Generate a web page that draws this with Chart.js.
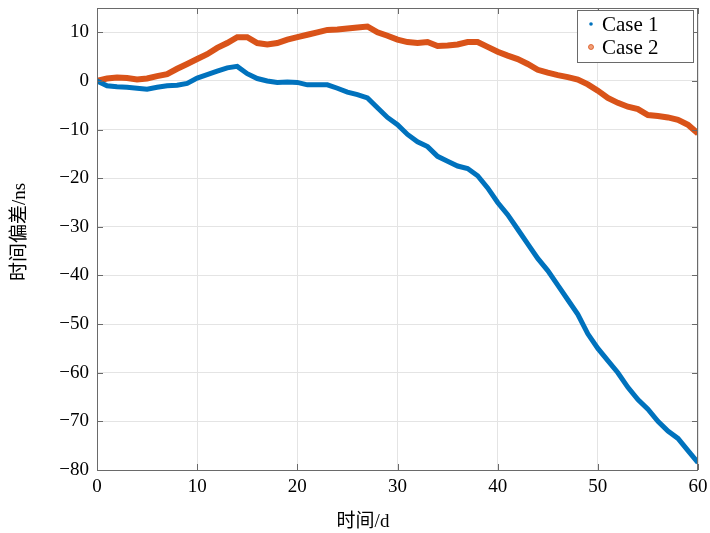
<!DOCTYPE html>
<html>
<head>
<meta charset="utf-8">
<script src="https://cdn.jsdelivr.net/npm/chart.js@4.4.1/dist/chart.umd.min.js"></script>
<style>
	html, body { margin: 0; padding: 0; background: #fff; }
	#wrap { width: 710px; height: 533px; }
</style>
</head>
<body>
<div id="wrap"><canvas id="chart"></canvas></div>
<script>
// days 0..60
var days = [];
for (var d = 0; d <= 60; d++) days.push(d);

var case1 = [0, -1.0, -1.2, -1.3, -1.5, -1.7, -1.3, -1.0, -0.9, -0.5,
	0.6, 1.3, 2.0, 2.7, 3.0, 1.5, 0.5, 0.0, -0.3, -0.2,
	-0.3, -0.8, -0.8, -0.8, -1.5, -2.3, -2.8, -3.5, -5.5, -7.5,
	-9.0, -11.0, -12.5, -13.5, -15.5, -16.5, -17.5, -18.0, -19.5, -22.0,
	-25.0, -27.5, -30.5, -33.5, -36.5, -39.0, -42.0, -45.0, -48.0, -52.0,
	-55.0, -57.5, -60.0, -63.0, -65.5, -67.5, -70.0, -72.0, -73.5, -76.0,
	-78.5];

var case2 = [0, 0.5, 0.7, 0.6, 0.3, 0.5, 1.0, 1.4, 2.5, 3.5,
	4.5, 5.5, 6.8, 7.8, 9.0, 9.0, 7.8, 7.5, 7.8, 8.5,
	9.0, 9.5, 10.0, 10.5, 10.6, 10.8, 11.0, 11.2, 10.0, 9.3,
	8.5, 8.0, 7.8, 8.0, 7.2, 7.3, 7.5, 8.0, 8.0, 7.0,
	6.0, 5.2, 4.5, 3.5, 2.3, 1.7, 1.2, 0.8, 0.3, -0.7,
	-2.0, -3.5, -4.5, -5.3, -5.8, -7.0, -7.2, -7.5, -8.0, -9.0,
	-10.8];

var x_ticks = [0, 10, 20, 30, 40, 50, 60];
var y_ticks = [-80, -70, -60, -50, -40, -30, -20, -10, 0, 10];

var seriesNames = ["Case 1", "Case 2"];
var seriesColors = ["#0072BD", "#D95319"];
var x_title = "时间/d";
var y_title = "时间偏差/ns";

var FONT = "'Liberation Serif', 'Noto Sans CJK SC', serif";

function toPoints(values) {
	return days.map(function (d, i) { return { x: d, y: values[i] }; });
}

// box around axes, inward ticks, axis titles and the legend
var matlabAxes = {
	id: "matlabAxes",
	afterDraw: function (chart) {
		var ctx = chart.ctx;
		var a = chart.chartArea;
		var xs = chart.scales.x, ys = chart.scales.y;
		ctx.save();
		ctx.strokeStyle = "#6a6a6a";
		ctx.lineWidth = 1;
		ctx.strokeRect(a.left + 0.5, a.top + 0.5, a.right - a.left - 1, a.bottom - a.top);
		ctx.beginPath();
		x_ticks.forEach(function (t) {
			var px = Math.round(xs.getPixelForValue(t)) + 0.5;
			ctx.moveTo(px, a.bottom); ctx.lineTo(px, a.bottom - 6);
			ctx.moveTo(px, a.top); ctx.lineTo(px, a.top + 6);
		});
		y_ticks.forEach(function (t) {
			var py = Math.round(ys.getPixelForValue(t)) + 0.5;
			ctx.moveTo(a.left, py); ctx.lineTo(a.left + 6, py);
			ctx.moveTo(a.right, py); ctx.lineTo(a.right - 6, py);
		});
		ctx.stroke();

		// axis titles
		ctx.fillStyle = "#000";
		ctx.font = "19px " + FONT;
		ctx.textAlign = "center";
		ctx.textBaseline = "middle";
		ctx.fillText(x_title, 363, 522);
		ctx.save();
		ctx.translate(20, 232);
		ctx.rotate(-Math.PI / 2);
		ctx.fillText(y_title, 0, 0);
		ctx.restore();

		// legend
		var lx = 577, ly = 10, lw = 116, lh = 52;
		ctx.fillStyle = "#fff";
		ctx.fillRect(lx, ly, lw, lh);
		ctx.strokeStyle = "#6a6a6a";
		ctx.strokeRect(lx + 0.5, ly + 0.5, lw, lh);
		ctx.font = "21px " + FONT;
		ctx.textAlign = "left";
		ctx.textBaseline = "middle";
		seriesNames.forEach(function (name, i) {
			var cy = ly + 14 + i * 23;
			ctx.beginPath();
			ctx.arc(lx + 14, cy, i === 0 ? 1.8 : 2.5, 0, Math.PI * 2);
			ctx.fillStyle = i === 0 ? seriesColors[0] : "#f0a07a";
			ctx.fill();
			if (i === 1) { ctx.strokeStyle = seriesColors[1]; ctx.lineWidth = 0.8; ctx.stroke(); }
			ctx.fillStyle = "#000";
			ctx.fillText(name, lx + 25, cy + 1);
		});
		ctx.restore();
	}
};

var chart = new Chart(document.getElementById("chart").getContext("2d"), {
	type: "line",
	data: {
		datasets: [
			{
				label: seriesNames[0],
				data: toPoints(case1),
				borderColor: seriesColors[0],
				backgroundColor: seriesColors[0],
				borderWidth: 5,
				pointRadius: 0,
				tension: 0,
				fill: false
			},
			{
				label: seriesNames[1],
				data: toPoints(case2),
				borderColor: seriesColors[1],
				backgroundColor: seriesColors[1],
				borderWidth: 6,
				pointRadius: 0,
				tension: 0,
				fill: false
			}
		]
	},
	options: {
		responsive: true,
		maintainAspectRatio: false,
		animation: false,
		layout: { padding: { left: 0, right: 12, top: 8, bottom: 0 } },
		plugins: {
			legend: { display: false },
			tooltip: { enabled: false }
		},
		scales: {
			x: {
				type: "linear",
				min: 0,
				max: 60,
				afterBuildTicks: function (scale) {
					scale.ticks = x_ticks.map(function (v) { return { value: v }; });
				},
				afterFit: function (scale) {
					scale.height = 63;
					scale.paddingLeft = 0;
					scale.paddingRight = 0;
				},
				grid: { color: "#e4e4e4", drawTicks: false },
				border: { display: false },
				ticks: {
					color: "#000",
					padding: 6,
					font: { family: FONT, size: 19 }
				}
			},
			y: {
				min: -80,
				max: 15,
				afterBuildTicks: function (scale) {
					scale.ticks = y_ticks.map(function (v) { return { value: v }; });
				},
				afterFit: function (scale) {
					scale.width = 97;
					scale.paddingTop = 0;
					scale.paddingBottom = 0;
				},
				grid: { color: "#e4e4e4", drawTicks: false },
				border: { display: false },
				ticks: {
					color: "#000",
					padding: 8,
					font: { family: FONT, size: 19 },
					callback: function (v) { return String(v).replace("-", "\u2212"); }
				}
			}
		}
	},
	plugins: [matlabAxes]
});
</script>
</body>
</html>
